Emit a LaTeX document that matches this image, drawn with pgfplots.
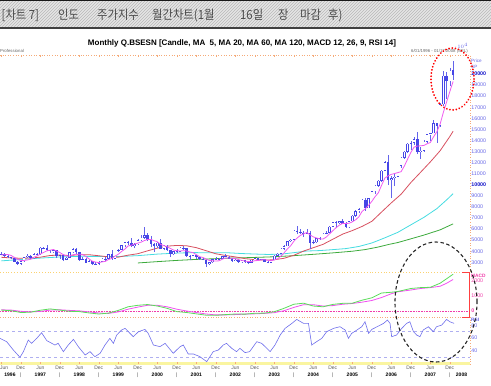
\documentclass[border=0pt]{standalone}
\usepackage{fontspec}
\setmainfont{Liberation Sans}
\newfontfamily\kr{Noto Sans CJK KR}
\usepackage{pgfplots}
\usepackage{pgfplotstable}
\pgfplotsset{compat=1.18}
\usetikzlibrary{patterns}

\definecolor{cndl}{RGB}{70,70,230}
\definecolor{wick}{RGB}{100,100,235}
\definecolor{maF}{RGB}{240,90,240}
\definecolor{maT}{RGB}{215,80,95}
\definecolor{maS}{RGB}{70,220,225}
\definecolor{maO}{RGB}{60,170,60}
\definecolor{macdg}{RGB}{90,220,90}
\definecolor{macdp}{RGB}{240,80,240}
\definecolor{rsic}{RGB}{110,110,235}
\definecolor{tickor}{RGB}{245,170,120}
\definecolor{ylw}{RGB}{250,245,160}
\definecolor{lav}{RGB}{175,175,240}
\definecolor{axblue}{RGB}{100,100,230}
\definecolor{axbold}{RGB}{20,20,200}
\definecolor{axpink}{RGB}{240,60,170}

\pgfplotstableread{
i o h l c m5
0 3745 3920 3700 3755 3661
1 3755 3810 3500 3560 3683
2 3560 3620 3420 3460 3701
3 3460 3520 3280 3390 3619
4 3390 3420 3020 3070 3447
5 3070 3120 2780 2850 3266
6 2850 3120 2745 3085 3171
7 3085 3460 3060 3440 3167
8 3440 3720 3380 3610 3211
9 3610 3620 3300 3360 3269
10 3360 3800 3300 3740 3447
11 3740 3870 3620 3720 3574
12 3720 4350 3700 4300 3746
13 4300 4420 4160 4310 3886
14 4310 4600 3990 4120 4038
15 4120 4140 3860 3980 4086
16 3980 4170 3880 4080 4158
17 4080 4100 3410 3580 4014
18 3580 3700 3320 3658 3884
19 3658 3700 3100 3230 3706
20 3230 3450 3180 3400 3590
21 3400 3900 3390 3890 3552
22 3890 4300 3820 4200 3676
23 4200 4270 3780 3920 3728
24 3920 3940 3160 3250 3732
25 3250 3490 3230 3310 3714
26 3310 3380 2920 2950 3526
27 2950 3190 2910 3100 3306
28 3100 3120 2780 2880 3098
29 2880 3000 2760 2860 3020
30 2860 3110 2740 3055 2969
31 3055 3350 3000 3310 3041
32 3310 3460 3150 3300 3081
33 3300 3760 3280 3740 3253
34 3740 4100 3250 3340 3349
35 3340 4150 3330 4120 3562
36 4120 4180 3950 4140 3728
37 4140 4600 4130 4540 3976
38 4540 4850 4350 4800 4188
39 4800 4900 4600 4760 4472
40 4760 5150 4420 4460 4540
41 4460 4700 4260 4650 4642
42 4650 5060 4590 5005 4735
43 5005 5500 4880 5210 4817
44 5210 6150 5100 5450 4955
45 5450 5660 4900 5000 5063
46 5000 5330 4370 4660 5065
47 4660 4780 3950 4430 4950
48 4430 4850 4320 4750 4858
49 4750 5080 4190 4240 4616
50 4240 4530 4080 4480 4512
51 4480 4600 4050 4090 4398
52 4090 4150 3490 3710 4254
53 3710 4040 3650 3990 4102
54 3990 4200 3860 3972 4048
55 3972 4410 3920 4330 4018
56 4330 4460 4140 4250 4050
57 4250 4270 3480 3600 4028
58 3600 3650 3180 3520 3934
59 3520 3700 3460 3630 3866
60 3630 3640 3280 3460 3692
61 3460 3480 3240 3330 3508
62 3330 3400 3200 3240 3436
63 3240 3260 2595 2810 3294
64 2810 3040 2750 2990 3166
65 2990 3320 2960 3290 3132
66 3290 3520 3220 3262 3118
67 3262 3420 3220 3310 3132
68 3310 3580 3290 3560 3282
69 3560 3760 3440 3470 3378
70 3470 3540 3320 3340 3388
71 3340 3420 3050 3125 3361
72 3125 3300 3100 3245 3348
73 3245 3290 2950 2990 3234
74 2990 3200 2930 3180 3176
75 3180 3220 2950 2990 3106
76 2990 3020 2830 2950 3071
77 2950 3240 2940 3230 3068
78 3230 3420 3200 3377 3145
79 3377 3430 3230 3250 3159
80 3250 3330 3200 3280 3217
81 3280 3320 3030 3050 3237
82 3050 3160 2900 2960 3183
83 2960 3200 2950 3180 3144
84 3180 3640 3170 3610 3216
85 3610 3850 3590 3790 3318
86 3790 4270 3780 4240 3556
87 4240 4520 4080 4450 3854
88 4450 4940 4440 4900 4198
89 4900 5100 4800 5040 4484
90 5040 5920 5030 5840 4894
91 5840 6250 5550 5700 5186
92 5700 6000 5580 5670 5430
93 5670 5800 5320 5590 5568
94 5590 5980 5570 5650 5690
95 5650 5790 4230 4760 5474
96 4760 4990 4620 4800 5294
97 4800 5200 4720 5170 5194
98 5170 5300 5020 5190 5114
99 5190 5600 5180 5580 5100
100 5580 5820 5520 5670 5282
101 5670 6250 5660 6230 5568
102 6230 6640 6200 6600 5854
103 6600 6700 6070 6550 6126
104 6550 6730 6500 6710 6352
105 6710 6950 6450 6490 6516
106 6490 6630 6130 6150 6500
107 6150 6740 6090 6720 6524
108 6720 7230 6680 7190 6652
109 7190 7720 7120 7630 6836
110 7630 7920 7450 7800 7098
111 7800 8720 7790 8630 7594
112 8630 8800 7660 7890 7828
113 7890 8810 7880 8790 8148
114 8790 9440 8760 9400 8502
115 9400 9950 9150 9920 8926
116 9920 10440 9820 10370 9274
117 10370 11360 10280 11280 9952
118 11280 12100 11250 12040 10602
119 12040 12670 9970 10400 10802
120 10400 10810 8800 10610 10940
121 10610 10940 9880 10740 11014
122 10740 11730 10700 11700 11098
123 11700 12480 11550 12450 11180
124 12450 13070 12330 12960 11692
125 12960 13800 12830 13700 12310
126 13700 13970 13100 13787 12919
127 13787 14330 13600 14090 13397
128 14090 14720 12790 12940 13495
129 12940 13450 12320 13070 13517
130 13070 14050 12990 13870 13551
131 13870 14580 13800 14540 13702
132 14540 14680 13950 14650 13814
133 14650 15870 14640 15550 14336
134 15550 15600 13780 15320 14786
135 15320 17360 15250 17290 15470
136 17290 20240 17140 19840 16530
137 19840 20210 17750 19360 17472
138 19360 20500 18900 20287 18419
139 20325 21206 19500 19868 19329
}\candles

\pgfplotstableread{
i v
0 3451
3 3396
6 3363
9 3388
12 3460
15 3615
18 3650
21 3614
24 3686
27 3685
30 3590
33 3491
36 3462
39 3643
42 3775
45 4034
48 4279
51 4458
54 4523
57 4492
60 4321
63 4047
66 3769
69 3615
72 3486
75 3330
78 3239
81 3197
84 3232
87 3363
90 3634
93 4014
96 4318
99 4623
102 5083
105 5542
108 5865
111 6239
114 6698
117 7540
120 8370
123 9146
126 10200
129 11128
132 12065
135 13068
138 14358
139 14831
}\maTwenty

\pgfplotstableread{
i v
0 3130
6 3250
12 3380
18 3480
24 3540
30 3530
36 3520
42 3600
48 3740
54 3830
59 3877
62 3864
66 3863
70 3855
74 3790
78 3745
82 3708
86 3731
90 3870
94 4019
98 4058
102 4144
106 4237
110 4428
114 4744
118 5209
122 5705
126 6381
130 7053
134 7845
137 8633
139 9192
}\maSixty

\pgfplotstableread{
i v
42 2940
48 3060
54 3170
60 3260
66 3330
72 3390
78 3440
84 3500
90 3600
96 3720
102 3850
108 4000
112 4150
116 4380
119 4599
122 4785
125 5033
130 5454
135 5928
139 6469
}\maOneTwenty

\pgfplotstableread{
i m s
0 60 80
3 20 60
6 -100 -20
9 -80 -60
12 50 -30
15 140 60
18 60 80
21 -20 40
24 -40 10
27 -130 -60
30 -200 -130
33 -140 -160
36 40 -60
39 280 120
42 380 260
45 430 380
48 330 380
51 180 280
54 -40 120
57 -100 0
60 -190 -100
63 -280 -200
66 -290 -260
69 -240 -260
72 -200 -240
75 -210 -210
78 -150 -190
81 -140 -160
84 -50 -110
87 180 20
90 450 240
93 520 420
96 330 420
99 280 330
102 440 360
105 510 450
108 520 500
111 720 590
114 880 700
117 1200 900
120 1250 1150
122 1300 1280
126 1500 1400
129 1560 1500
132 1580 1560
135 1850 1650
137 2150 1850
139 2450 2100
}\macd

\pgfplotstableread{
i v
-0.4 59.6
1.65 54.4
3.7 41.4
5.75 30
6.8 38.8
8.3 57
9.3 51.8
10.9 59.6
12.4 68.4
14 56
16.5 49.2
17.5 51.8
19.1 38.8
20.6 49.2
22.2 58
23.7 46.6
25.8 33.6
27.3 38.8
28.8 31
30.4 36.2
31.9 49.2
33.4 59.6
34.5 51.8
35.5 64.8
37 72.6
38.1 75.2
39.1 70
40.6 62.2
42.2 70
44.2 73.6
45.2 67.4
46.8 49.2
48.8 46.6
50.4 51.8
52.9 36.2
55 46.6
56 49.2
57.5 35.2
59.1 35.2
61.1 31
63.2 23.2
65.2 38.8
66.8 41.4
68.3 49.2
69.3 51.8
70.9 44
72.4 38.8
73.4 44
75 37.3
76.4 38.8
78.6 54.4
80.1 51.8
81.7 44
82.7 38.8
84.2 49.2
85.8 64.8
87.3 75.2
89.4 83
90.9 89.2
93 83
94.5 83
95.5 49.2
97 54.4
98.6 59.6
100.1 70
102.2 75.2
104.2 77.8
105.8 72.6
106.8 59.6
107.8 67.4
109.4 72.6
110.9 77.8
111.9 85.6
113 67.4
114 73.6
116 78.8
117.6 83
118.8 88.2
119.6 83
120.1 62.2
121.6 64.8
123.2 75.2
124.7 83
125.7 85.6
126.8 70
127.8 64.8
128.8 62.2
129.8 72.6
131.4 77.8
132.9 70
133.9 77.8
135.5 80.4
137 89.2
138 85.6
139.3 83
}\rsi

\pgfplotsset{
  panel/.style={scale only axis, width=470pt, xmin=-0.4, xmax=144.2,
    axis line style={draw=none},
    major tick length=2pt, xtick align=inside,
    xtick style={draw=tickor, line width=0.6pt},
    ytick style={draw=none},
    yticklabel pos=right,
    yticklabel style={anchor=west, inner sep=0pt, xshift=1.2pt, font=\fontsize{5.3}{6}\selectfont},
  }
}

\newcommand{\kt}[1]{\scalebox{0.9}[1]{\kr\fontsize{12.6}{13}\selectfont #1}}

\begin{document}
\begin{tikzpicture}
\useasboundingbox (0pt,0pt) rectangle (491pt,386pt);
\begin{scope}[x=1pt,y=1pt]
% banner
\fill[gray!20] (0,357.5) rectangle (491,384.5);
\fill[pattern=north east lines, pattern color=gray!55] (0,357.5) rectangle (491,384.5);
\fill[black!90] (0,384.5) rectangle (491,386);
\fill[black!75] (0,356.7) rectangle (491,358.7);
\begin{scope}[every node/.style={anchor=base west, inner sep=0pt, text=black!70}]
\node at (1.5,366.5) {\kt{[차트 7]}};
\node at (58,366.5) {\kt{인도}};
\node at (97,366.5) {\kt{주가지수}};
\node at (152,366.5) {\kt{월간차트(1월}};
\node at (240,366.5) {\kt{16일}};
\node at (278,366.5) {\kt{장}};
\node at (300,366.5) {\kt{마감}};
\node at (328,366.5) {\kt{후)}};
\end{scope}
% titles
\node[inner sep=0pt, font=\bfseries\fontsize{8}{9}\selectfont] at (242,342.5) {Monthly Q.BSESN [Candle, MA\ \ 5, MA 20, MA 60, MA 120, MACD 12, 26, 9, RSI 14]};
\node[anchor=west, inner sep=0pt, text=black!60, font=\fontsize{4.3}{5}\selectfont] at (0,335) {Professional};
\node[anchor=east, inner sep=0pt, text=black!60, font=\fontsize{4.3}{5}\selectfont] at (468,335) {6/01/1996 - 01/17/2008 (SEL)};
\node[anchor=west, inner sep=0pt, text=axblue, font=\fontsize{4.6}{5}\selectfont] at (471,325) {Price};
\node[anchor=west, inner sep=0pt, text=axblue, font=\fontsize{4.6}{5}\selectfont] at (471,319) {SP};
\node[anchor=west, inner sep=0pt, text=axpink, font=\bfseries\fontsize{4.8}{5}\selectfont] at (471,110) {MACD};
\node[anchor=west, inner sep=0pt, text=axblue, font=\bfseries\fontsize{4.8}{5}\selectfont] at (471,66) {RSI};
% panel frames
\draw[tickor, dotted, line width=0.6pt] (0,331) -- (470,331) -- (470,114);
\draw[ylw!70!orange, dotted, line width=0.8pt] (0,114) -- (470,114);
\draw[axpink, densely dotted, line width=0.6pt] (0,75) -- (470,75);
\draw[tickor, dotted, line width=0.6pt] (0,69) -- (470,69);
\draw[red!75, line width=0.6pt] (469.5,114) -- (469.5,69);
\draw[red!75, line width=0.6pt] (462,114) -- (470,114);
\draw[red!75, line width=0.6pt] (462,69) -- (470,69);
\draw[lav, dashed, line width=0.6pt] (0,54.3) -- (470,54.3);
\draw[lav, dashed, line width=0.6pt] (0,28.7) -- (470,28.7);
\draw[tickor, dotted, line width=0.6pt] (470,69) -- (470,22);
\fill[ylw] (0,21) rectangle (470,24);
% bottom labels
\node[inner sep=0pt, anchor=north west, text=black!65, font=\fontsize{5}{6}\selectfont] at (0,20) {Jun};
\foreach \k in {0,...,11} {
  \ifnum\k>0
  \node[inner sep=0pt, anchor=north, text=black!65, font=\fontsize{5}{6}\selectfont] at ({1.3+3.25*12*\k},20) {Jun};
  \fi
  \node[inner sep=0pt, anchor=north, text=black!65, font=\fontsize{5}{6}\selectfont] at ({1.3+3.25*(12*\k+6)},20) {Dec};
  \node[inner sep=0pt, text=black!70, font=\fontsize{5}{6}\selectfont] at ({1.3+3.25*(12*\k+6)},11) {|};
}
\node[inner sep=0pt, font=\bfseries\fontsize{5}{6}\selectfont] at (10,11) {1996};
\foreach \y [count=\k] in {1997,...,2007} {
  \node[inner sep=0pt, font=\bfseries\fontsize{5}{6}\selectfont] at ({1.3+3.25*12*\k},11) {\y};
}
\node[inner sep=0pt, font=\bfseries\fontsize{5}{6}\selectfont] at (461.5,11) {2008};
\end{scope}

% price panel
\begin{axis}[panel, at={(0pt,331pt)}, anchor=north west, height=217pt,
  ymin=2124, ymax=21715,
  xtick={0,6,...,138}, xticklabels={}, xtick pos=right,
  ytick={3000,4000,...,20000},
  yticklabels={3000,4000,5000,6000,7000,8000,9000,\textcolor{axbold}{\textbf{10000}},11000,12000,13000,14000,15000,16000,17000,18000,19000,\textcolor{axbold}{\textbf{20000}}},
  yticklabel style={text=axblue},
]
\addplot[maS, line width=0.8pt] table[x=i,y=v] {\maSixty};
\addplot[maO, line width=0.8pt] table[x=i,y=v] {\maOneTwenty};
\addplot[maT, line width=0.8pt] table[x=i,y=v] {\maTwenty};
\addplot[wick, line width=0.5pt, quiver={u=0, v=\thisrow{h}-\thisrow{l}}] table[x=i,y=l] {\candles};
\addplot[cndl, quiver={u=0, v=\thisrow{c}-\thisrow{o}, every arrow/.append style={line width=2.5pt, line cap=butt}}] table[x=i,y=o] {\candles};
\addplot[white, quiver={u=0, v={max(\thisrow{c}-\thisrow{o}-90,0)}, every arrow/.append style={line width=1.5pt, line cap=butt}}] table[x=i,y expr=\thisrow{o}+45] {\candles};
\addplot[maF, line width=0.8pt] table[x=i,y=m5] {\candles};
\end{axis}

% MACD panel
\begin{axis}[panel, at={(0pt,114pt)}, anchor=north west, height=45pt,
  ymin=-400, ymax=2600, xtick=\empty,
  ytick={0,1000,2000}, yticklabels={\textbf{0},1000,2000},
  yticklabel style={text=axpink},
]
\addplot[macdp, line width=0.8pt] table[x=i,y=s] {\macd};
\addplot[macdg, line width=0.8pt] table[x=i,y=m] {\macd};
\end{axis}

% RSI panel
\begin{axis}[panel, at={(0pt,69pt)}, anchor=north west, height=47pt,
  ymin=19.5, ymax=93,
  xtick={0,6,...,138}, xticklabels={}, xtick pos=left,
  ytick={40,60,80}, yticklabels={40,60,80},
  yticklabel style={text=axblue},
]
\addplot[rsic, line width=0.6pt] table[x=i,y=v] {\rsi};
\end{axis}

\begin{scope}[x=1pt,y=1pt]
\draw[red, line width=2pt, dash pattern=on 0.01pt off 3.2pt, line cap=round] (452.5,307) ellipse (21.5 and 31);
\draw[black!85, line width=1.1pt, dash pattern=on 3.5pt off 2.5pt] (436,84) ellipse (41 and 60);
\end{scope}
\end{tikzpicture}
\end{document}
